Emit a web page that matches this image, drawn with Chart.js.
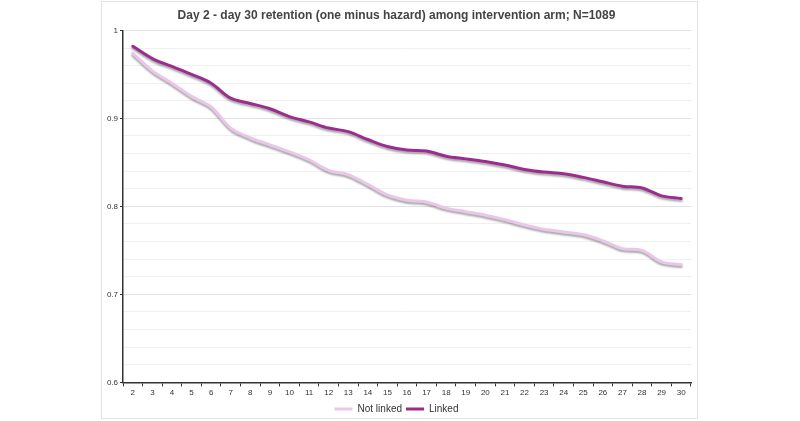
<!DOCTYPE html>
<html>
<head>
<meta charset="utf-8">
<script src="https://cdn.jsdelivr.net/npm/chart.js@4.4.1/dist/chart.umd.min.js"></script>
<style>
  body { margin: 0; background: #fff; }
  #box {
    position: absolute; left: 101px; top: 1px;
    width: 595px; height: 416px;
    border: 1px solid #e2e2e2;
  }
</style>
</head>
<body>
<div id="box"><canvas id="myChart"></canvas></div>
<script>
// Dias y retencion por grupo
const days = ['2','3','4','5','6','7','8','9','10','11','12','13','14','15','16',
  '17','18','19','20','21','22','23','24','25','26','27','28','29','30'];
const notLinked = [0.974,0.954,0.940,0.925,0.913,0.889,0.878,0.870,0.862,0.853,
  0.841,0.836,0.825,0.813,0.807,0.805,0.798,0.794,0.790,0.785,0.779,0.774,0.771,
  0.768,0.761,0.752,0.750,0.737,0.734];
const linked = [0.982,0.968,0.959,0.950,0.940,0.923,0.917,0.911,0.902,0.896,
  0.889,0.885,0.876,0.868,0.864,0.863,0.857,0.854,0.851,0.847,0.842,0.839,0.837,
  0.833,0.828,0.823,0.821,0.812,0.809];

Chart.defaults.font.family = '"Liberation Sans", Arial, sans-serif';
Chart.defaults.color = '#333';

const isMajor = v => Math.abs(v * 10 - Math.round(v * 10)) < 1e-6;

// sombra bajo las lineas
const shadow = {
  id: 'shadow',
  beforeDatasetsDraw(chart) {
    const c = chart.ctx;
    c.save();
    c.shadowColor = 'rgba(0,0,0,0.35)';
    c.shadowBlur = 2;
    c.shadowOffsetY = 2;
  },
  afterDatasetsDraw(chart) {
    chart.ctx.restore();
  }
};

let ctx = document.getElementById('myChart');
let chart = new Chart(ctx, {
  type: 'line',
  data: {
    labels: days,
    datasets: [{
      label: 'Not linked',
      data: notLinked,
      borderColor: '#ecc6ea',
      backgroundColor: '#ecc6ea',
      borderWidth: 3,
      pointRadius: 0,
      tension: 0.35,
      borderCapStyle: 'round'
    }, {
      label: 'Linked',
      data: linked,
      borderColor: '#9c2c8f',
      backgroundColor: '#9c2c8f',
      borderWidth: 3,
      pointRadius: 0,
      tension: 0.35,
      borderCapStyle: 'round'
    }]
  },
  options: {
    responsive: true,
    maintainAspectRatio: false,
    animation: false,
    layout: { padding: { left: 0, right: 6, top: 0, bottom: -6 } },
    plugins: {
      title: {
        display: true,
        text: 'Day 2 - day 30 retention (one minus hazard) among intervention arm; N=1089',
        color: '#444',
        font: { size: 12, weight: 'bold' },
        padding: { top: 6, bottom: 8 }
      },
      legend: {
        position: 'bottom',
        labels: {
          boxWidth: 18,
          boxHeight: 3,
          padding: 4,
          color: '#333',
          font: { size: 10 },
          generateLabels(ch) {
            return Chart.defaults.plugins.legend.labels.generateLabels(ch).map(it => {
              it.lineWidth = 0;
              it.fillStyle = it.strokeStyle;
              return it;
            });
          }
        }
      },
      tooltip: { enabled: false }
    },
    scales: {
      x: {
        offset: true,
        grid: {
          offset: true,
          drawOnChartArea: false,
          tickLength: 4,
          tickColor: '#333'
        },
        border: { color: '#333', width: 1.5 },
        ticks: { font: { size: 8 }, color: '#333', maxRotation: 0, autoSkip: false, padding: 2 }
      },
      y: {
        min: 0.6,
        max: 1,
        afterFit(s) { s.width = 21; },
        grid: {
          color: c => isMajor(c.tick.value) ? '#e2e2e2' : '#f0f0f0',
          tickColor: c => isMajor(c.tick.value) ? '#333' : 'rgba(0,0,0,0)',
          tickLength: 3
        },
        border: { color: '#333', width: 1.5 },
        ticks: {
          stepSize: 0.02,
          font: { size: 8 },
          color: '#333',
          padding: 2,
          autoSkip: false,
          callback: v => isMajor(v) ? String(Math.round(v * 10) / 10) : ''
        }
      }
    }
  },
  plugins: [shadow]
});
</script>
</body>
</html>
